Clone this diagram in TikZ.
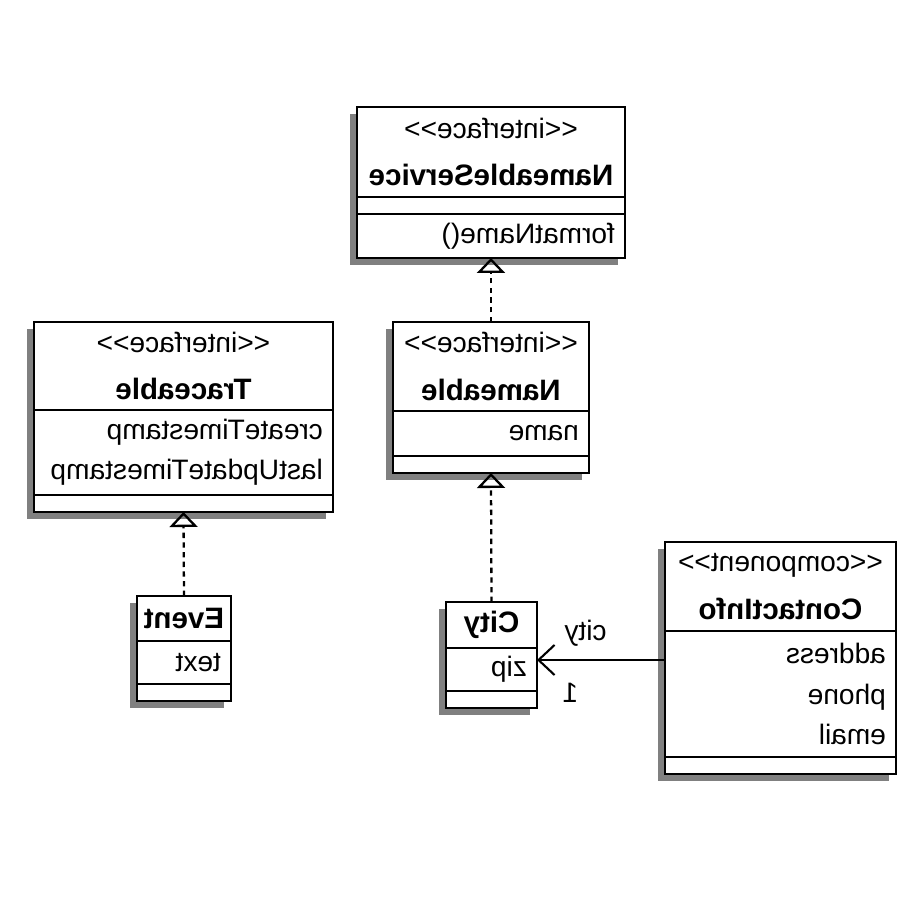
\documentclass[tikz,border=0pt]{standalone}
\usepackage{fontspec}
\setmainfont{Liberation Sans}
\usetikzlibrary{arrows.meta, positioning, calc, backgrounds}
\definecolor{shadowgray}{RGB}{128, 128, 128}
\newcommand{\umlstereo}[1]{<\kern0pt<#1>\kern0pt>}
\newcommand{\umlname}[1]{{\fontsize{16.8}{23}\selectfont\bfseries #1}}

\begin{document}
\begin{tikzpicture}[
    xscale=-1,
    every node/.append style={transform shape},
    font=\fontsize{16}{23}\selectfont,
    classpart/.style={draw, line width=1.3pt, fill=white, outer sep=0pt, inner xsep=0.2cm, inner ysep=0pt},
    titlepart/.style={classpart, align=center, inner xsep=0.08cm},
    itempart/.style={classpart, align=left},
    emptypart/.style={classpart, minimum height=0.34cm},
    realize/.style={line width=1.3pt, dash pattern=on 3pt off 2.5pt, -{Triangle[open, width=0.56cm, length=0.3cm]}},
    assoc/.style={line width=1.2pt, -{Straight Barb[width=0.6cm, length=0.32cm]}}
]
\useasboundingbox (0,0) rectangle (18,18);

% NameableService
\node (ns-t) [titlepart, minimum width=5.36cm, minimum height=1.8cm, anchor=north] at (8.18,15.86) {\umlstereo{interface}\\[4pt]\umlname{NameableService}};
\node (ns-a) [emptypart, minimum width=5.36cm, below=0pt of ns-t] {};
\node (ns-o) [itempart, text width=4.96cm, minimum height=0.88cm, below=0pt of ns-a] {formatName()};

% Nameable
\node (nm-t) [titlepart, minimum width=3.92cm, minimum height=1.78cm, anchor=north] at (8.18,11.56) {\umlstereo{interface}\\[4pt]\umlname{Nameable}};
\node (nm-a) [itempart, text width=3.52cm, minimum height=0.9cm, below=0pt of nm-t] {name};
\node (nm-o) [emptypart, minimum width=3.92cm, below=0pt of nm-a] {};

% Traceable
\node (tr-t) [titlepart, minimum width=5.98cm, minimum height=1.76cm, anchor=north] at (14.33,11.56) {\umlstereo{interface}\\[4pt]\umlname{Traceable}};
\node (tr-a) [itempart, text width=5.58cm, minimum height=1.7cm, below=0pt of tr-t] {createTimestamp\\lastUpdateTimestamp};
\node (tr-o) [emptypart, minimum width=5.98cm, below=0pt of tr-a] {};

% Event
\node (ev-t) [titlepart, minimum width=1.88cm, minimum height=0.9cm, anchor=north] at (14.32,6.08) {\umlname{Event}};
\node (ev-a) [itempart, text width=1.48cm, minimum height=0.86cm, below=0pt of ev-t] {text};
\node (ev-o) [emptypart, minimum width=1.88cm, below=0pt of ev-a] {};

% City
\node (ct-t) [titlepart, minimum width=1.82cm, minimum height=0.92cm, anchor=north] at (8.17,5.96) {\umlname{City}};
\node (ct-a) [itempart, text width=1.42cm, minimum height=0.86cm, below=0pt of ct-t] {zip};
\node (ct-o) [emptypart, minimum width=1.82cm, below=0pt of ct-a] {};

% ContactInfo
\node (ci-t) [titlepart, minimum width=4.62cm, minimum height=1.78cm, anchor=north] at (2.39,7.16) {\umlstereo{component}\\[4pt]\umlname{ContactInfo}};
\node (ci-a) [itempart, text width=4.22cm, minimum height=2.52cm, below=0pt of ci-t] {address\\phone\\email};
\node (ci-o) [emptypart, minimum width=4.62cm, below=0pt of ci-a] {};

% Shadows
\begin{scope}[on background layer]
\foreach \c in {ns, nm, tr, ev, ct, ci}
  \fill [shadowgray] ($(\c-t.north west)+(0.14,-0.14)$) rectangle ($(\c-o.south east)+(0.14,-0.14)$);
\end{scope}

% Realizations
\draw [realize] (nm-t.north) -- (ns-o.south);
\draw [realize] (ct-t.north) -- (nm-o.south);
\draw [realize] (ev-t.north) -- (tr-o.south);

% Association
\coordinate (cityport) at ($(ct-a.west)+(0,0.19)$);
\draw [assoc] (ci-a.east |- cityport) -- node [pos=0.62, yshift=0.54cm] (lbl-city) {city} node [pos=0.74, yshift=-0.66cm] (lbl-one) {1} (cityport);

\end{tikzpicture}
\end{document}
